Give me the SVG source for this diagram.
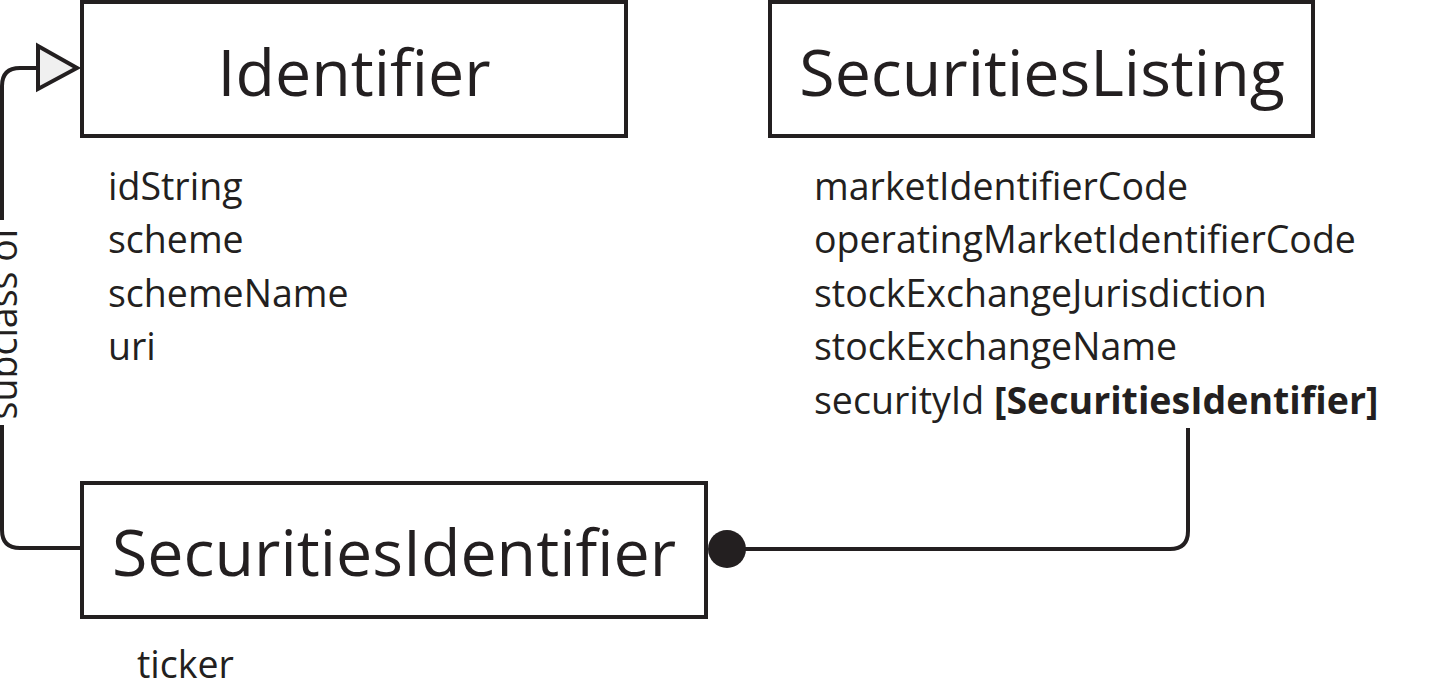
<svg xmlns="http://www.w3.org/2000/svg" width="1441" height="693" viewBox="0 0 1441 693">
<style>
.box{fill:#fff;stroke:#231f20;stroke-width:4}
.title{font-family:"Open Sans",sans-serif;font-size:64.5px;fill:#231f20;text-anchor:middle}
.attr{font-family:"Open Sans",sans-serif;font-size:37.5px;fill:#231f20}
.b{font-weight:bold}
.conn{fill:none;stroke:#231f20;stroke-width:4}
</style>
<rect width="1441" height="693" fill="#fff"/>
<g id="connectors">
<path class="conn" d="M2,220 V86 Q2,68 20,68 H40"/>
<polygon points="38,46 77,68 38,89" fill="#f0f0f0" stroke="#231f20" stroke-width="4"/>
<path class="conn" d="M2,425 V530 Q2,548 20,548 H82"/>
<text class="attr" transform="translate(2,323) rotate(-90)" text-anchor="middle" dominant-baseline="central">subclass of</text>
<path class="conn" d="M727,549 H1170 Q1188,549 1188,531 V428"/>
<circle cx="727" cy="549" r="19" fill="#231f20"/>
</g>
<g id="Identifier">
<rect class="box" x="82" y="2" width="544" height="134"/>
<text class="title" x="354" y="96">Identifier</text>
<text class="attr" x="108" y="200">idString</text>
<text class="attr" x="108" y="253">scheme</text>
<text class="attr" x="108" y="307">schemeName</text>
<text class="attr" x="108" y="360">uri</text>
</g>
<g id="SecuritiesListing">
<rect class="box" x="770" y="2" width="543" height="134"/>
<text class="title" x="1042" y="96">SecuritiesListing</text>
<text class="attr" x="814" y="200">marketIdentifierCode</text>
<text class="attr" x="814" y="253">operatingMarketIdentifierCode</text>
<text class="attr" x="814" y="307">stockExchangeJurisdiction</text>
<text class="attr" x="814" y="360">stockExchangeName</text>
<text class="attr" x="814" y="414">securityId <tspan class="b">[SecuritiesIdentifier]</tspan></text>
</g>
<g id="SecuritiesIdentifier">
<rect class="box" x="82" y="483" width="624" height="134"/>
<text class="title" x="394" y="576">SecuritiesIdentifier</text>
<text class="attr" x="137" y="678">ticker</text>
</g>
</svg>
